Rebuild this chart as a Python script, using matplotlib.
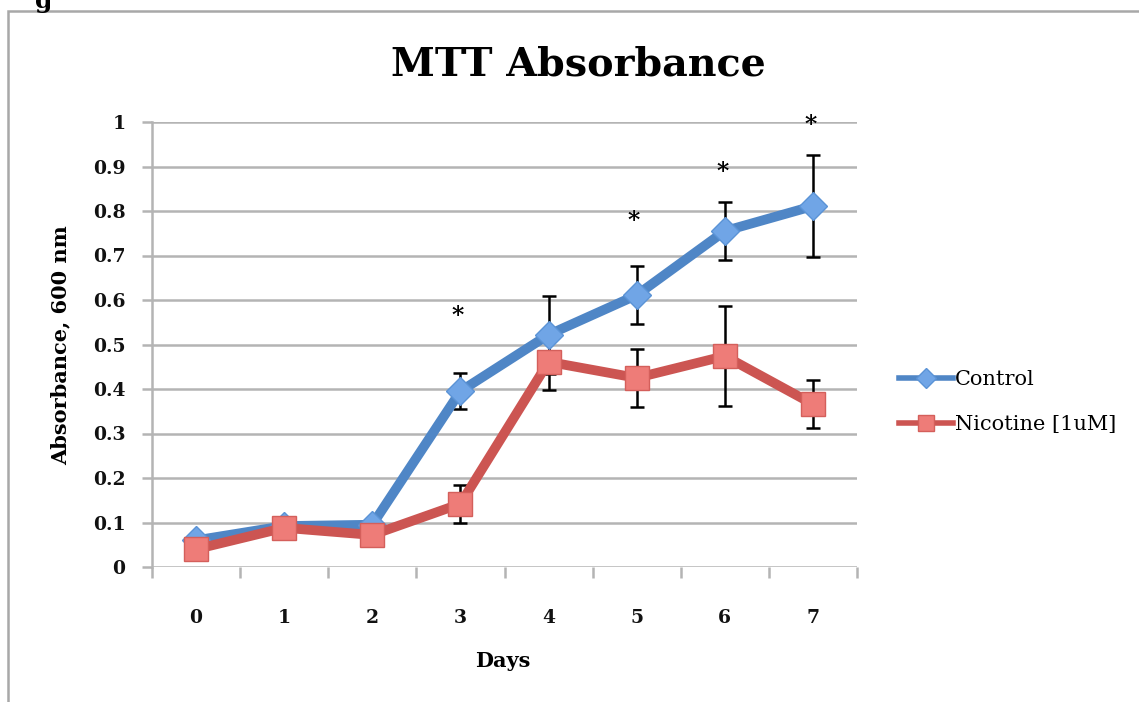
import matplotlib
matplotlib.use("Agg")
import matplotlib.pyplot as plt
from matplotlib.patches import Rectangle
from matplotlib.lines import Line2D

days = [0, 1, 2, 3, 4, 5, 6, 7]
day_labels = ["0", "1", "2", "3", "4", "5", "6", "7"]
control = [0.06, 0.092, 0.095, 0.395, 0.522, 0.611, 0.755, 0.811]
control_err = [0.0, 0.0, 0.0, 0.04, 0.088, 0.066, 0.065, 0.115]
nicotine = [0.04, 0.088, 0.072, 0.142, 0.461, 0.425, 0.474, 0.366]
nicotine_err = [0.0, 0.0, 0.0, 0.042, 0.063, 0.066, 0.112, 0.054]
star_days = [3, 5, 6, 7]
star_y = [0.567, 0.78, 0.89, 0.995]
yticks = [0, 0.1, 0.2, 0.3, 0.4, 0.5, 0.6, 0.7, 0.8, 0.9, 1]
ytick_labels = ["0", "0.1", "0.2", "0.3", "0.4", "0.5", "0.6", "0.7", "0.8", "0.9", "1"]

W, H = 1139, 702
fig = plt.figure(figsize=(W / 100, H / 100), dpi=100)
serif = ["DejaVu Serif"]

# outer chart border
fig.patches.append(Rectangle((8 / W, -0.1), 1.2, (H - 11) / H + 0.1, transform=fig.transFigure,
                             fill=False, edgecolor="#a8a8a8", linewidth=1.8))
fig.text(35 / W, 1 - 1 / H, "g", fontsize=18, fontweight="bold", family=serif, ha="left", va="center")

ax = fig.add_axes([152 / W, (H - 567) / H, (857 - 152) / W, (567 - 122) / H])
ax.set_xlim(-0.5, 7.5)
ax.set_ylim(0, 1)

for y in yticks:
    ax.axhline(y, color="#b4b4b4", linewidth=1.8, zorder=0)

for s in ["top", "right", "bottom"]:
    ax.spines[s].set_visible(False)
ax.spines["left"].set_color("#b4b4b4")
ax.spines["left"].set_linewidth(1.8)

ax.set_yticks(yticks)
ax.set_yticklabels(ytick_labels)
ax.set_xticks(days)
ax.set_xticklabels(day_labels)
ax.set_xticks([i - 0.5 for i in range(9)], minor=True)
ax.tick_params(axis="x", which="major", length=0, pad=30)
ax.tick_params(axis="x", which="minor", length=8, width=1.8, color="#b4b4b4")
ax.tick_params(axis="y", length=7, width=1.8, color="#b4b4b4", pad=12)
for lab in ax.get_xticklabels() + ax.get_yticklabels():
    lab.set_family(serif)
    lab.set_fontsize(13.5)
    lab.set_fontweight("bold")
    lab.set_color("#111111")

ax.errorbar(days, control, yerr=control_err, fmt="none", ecolor="black", elinewidth=1.8,
            capsize=5, capthick=1.8, zorder=2)
ax.errorbar(days, nicotine, yerr=nicotine_err, fmt="none", ecolor="black", elinewidth=1.8,
            capsize=5, capthick=1.8, zorder=2)
ax.plot(days, control, color="#4f86c6", linewidth=7, marker="D", markersize=14,
        markerfacecolor="#70a5e6", markeredgecolor="#5b93d6", markeredgewidth=1, zorder=3,
        clip_on=False)
ax.plot(days, nicotine, color="#cc5552", linewidth=7, marker="s", markersize=17,
        markerfacecolor="#ee7c78", markeredgecolor="#d45f5b", markeredgewidth=1, zorder=4,
        clip_on=False)

for d, y in zip(star_days, star_y):
    ax.text(d - 0.03, y - 0.002, "*", fontsize=17, fontweight="bold", family=serif, ha="center",
            va="center", zorder=5)

fig.text(578 / W, 1 - 64 / H, "MTT Absorbance", fontsize=28.5, fontweight="bold", family=serif,
         ha="center", va="center")
fig.text(503 / W, 1 - 661 / H, "Days", fontsize=15, fontweight="bold", family=serif,
         ha="center", va="center")
fig.text(60 / W, 1 - 345 / H, "Absorbance, 600 nm", fontsize=15, fontweight="bold", family=serif,
         ha="center", va="center", rotation=90)

# legend
h1 = Line2D([], [], color="#4f86c6", linewidth=4, marker="D", markersize=10,
            markerfacecolor="#70a5e6", markeredgecolor="#5b93d6")
h2 = Line2D([], [], color="#cc5552", linewidth=4, marker="s", markersize=12,
            markerfacecolor="#ee7c78", markeredgecolor="#d45f5b")
fig.legend([h1, h2], ["Control", "Nicotine [1uM]"], loc="center left",
           bbox_to_anchor=(880 / W, 1 - 402 / H), frameon=False, handlelength=2.6,
           handletextpad=0.1, labelspacing=1.25, prop={"family": serif, "size": 15})

fig.savefig("out.png", dpi=100)
